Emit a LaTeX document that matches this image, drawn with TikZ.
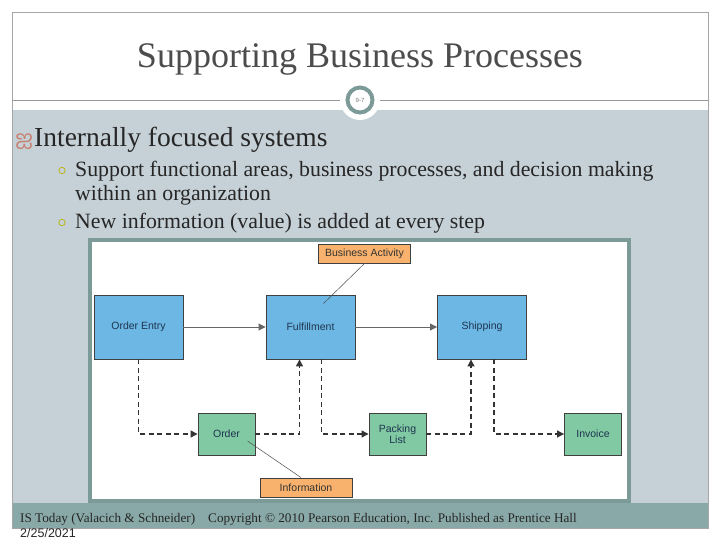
\documentclass[tikz,border=0pt]{standalone}
\usepackage{fontspec}
\setmainfont{Liberation Serif}
\newfontfamily\diagfont{Liberation Sans}
\newfontfamily\tamilfont[Script=Tamil]{Hind Madurai}
\usepackage{xcolor}
\usetikzlibrary{arrows.meta, positioning, calc}

\definecolor{slidebg}{HTML}{C6D1D7}
\definecolor{footbg}{HTML}{88A9A7}
\definecolor{framec}{HTML}{7C9A98}
\definecolor{procblue}{HTML}{6DB7E4}
\definecolor{docgreen}{HTML}{80C9A2}
\definecolor{noteorange}{HTML}{F8B26D}
\definecolor{boxtext}{HTML}{1E3550}
\definecolor{bulletc}{HTML}{C8806E}

\begin{document}
\begin{tikzpicture}[
  x=1pt, y=-1pt,
  box/.style={draw=black!75, line width=0.9pt, inner sep=0pt, align=center,
              font=\diagfont\fontsize{10.5}{11.5}\selectfont, text=boxtext},
  proc/.style={box, fill=procblue, minimum width=89pt, minimum height=64pt},
  doc/.style={box, fill=docgreen, minimum width=57pt, minimum height=42pt},
  note/.style={box, fill=noteorange, minimum width=92pt, minimum height=19pt,
               text=black!80},
  ar/.style={-{Triangle[length=7pt,width=7pt]}, black!60, line width=0.9pt},
  dar/.style={ar, black!80, dashed, line width=1.2pt,
              dash pattern=on 5pt off 3.5pt},
  txt/.style={anchor=base west, inner sep=0pt, text=black!85}
]
\useasboundingbox (0,0) rectangle (720,540);
\fill[white] (0,0) rectangle (720,540);
% slide frame
\fill[slidebg] (12,110) rectangle (708,503);
\fill[footbg] (12,503) rectangle (708,528);
\draw[black!35, line width=0.8pt] (12,12) rectangle (708,528);
\draw[black!40, line width=0.8pt] (12,100) -- (708,100);
\fill[white] (360,100) circle (20);
\draw[framec, line width=4pt, fill=white] (360,100) circle (12.5);
\node[font=\diagfont\fontsize{6}{7}\selectfont, text=black!55] (num) at (360,100) {9-7};
\node[font=\fontsize{36}{40}\selectfont, text=black!70, anchor=base] (title)
  at (360,68) {Supporting Business Processes};

% bullets
\node[txt, font=\tamilfont\fontsize{21}{24}\selectfont, text=bulletc] (b0) at (15,146) {ஐ};
\node[txt, font=\fontsize{27.5}{32}\selectfont] (l1) at (34,147) {Internally focused systems};
\draw[olive!60!yellow, line width=0.7pt] (62,170.5) circle (3.2);
\draw[olive!60!yellow, line width=0.7pt] (62,222.5) circle (3.2);
\node[txt, font=\fontsize{21.8}{26}\selectfont] (l2) at (75,177) {Support functional areas, business processes, and decision making};
\node[txt, font=\fontsize{21.8}{26}\selectfont] (l3) at (75,201) {within an organization};
\node[txt, font=\fontsize{21.8}{26}\selectfont] (l4) at (75,229) {New information (value) is added at every step};

% picture
\draw[framec, fill=white, line width=4pt] (90,240) rectangle (629,501);
\node[proc] (entry) at (138.5,327) {Order Entry};
\node[proc] (ful)   at (310.5,327) {Fulfillment};
\node[proc] (ship)  at (482,327)   {Shipping};
\node[doc]  (order) at (226.5,434) {Order};
\node[doc]  (pack)  at (397.5,434) {Packing\\List};
\node[doc]  (inv)   at (593,434)   {Invoice};
\node[note] (bact)  at (364.5,253.5) {Business Activity};
\node[note] (info)  at (306,487.5) {Information};
\draw[ar] (entry) -- (ful);
\draw[ar] (ful) -- (ship);
\draw[dar] (entry.south) |- (order.west);
\draw[dar] (order.east) -| ([xshift=-11pt]ful.south);
\draw[dar] ([xshift=11pt]ful.south) |- (pack.west);
\draw[dar] (pack.east) -| ([xshift=-11pt]ship.south);
\draw[dar] ([xshift=12pt]ship.south) |- (inv.west);
\draw[black!70, line width=0.5pt] (bact.south) -- ([shift={(13pt,-9pt)}]ful.north);
\draw[black!70, line width=0.5pt] ([shift={(21pt,-7pt)}]order.center) -- ([xshift=-5pt]info.north);

% footer
\node[txt, font=\fontsize{13.2}{15}\selectfont] (src) at (20,522) {IS Today (Valacich \& Schneider)};
\node[txt, font=\fontsize{13.2}{15}\selectfont] (copy) at (208,522) {Copyright © 2010 Pearson Education, Inc. Published as Prentice Hall};
\node[txt, font=\diagfont\fontsize{12.5}{14}\selectfont] (date) at (20,537) {2/25/2021};
\end{tikzpicture}
\end{document}
